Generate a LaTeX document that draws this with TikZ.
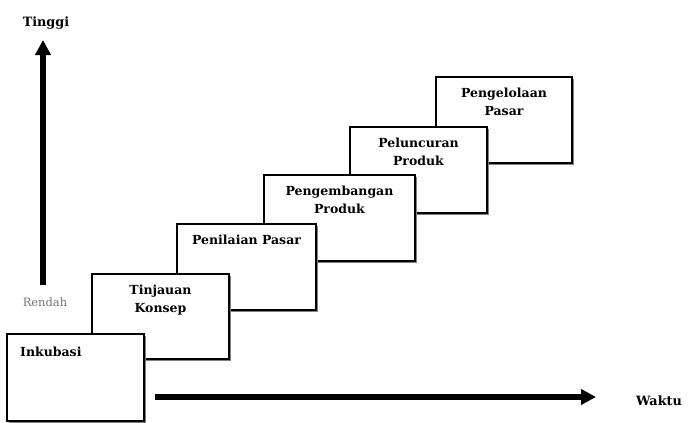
\documentclass[tikz,border=0pt]{standalone}
\usepackage{fontspec}
\setmainfont{DejaVu Serif}
\usetikzlibrary{arrows.meta,shadows}
\begin{document}
\begin{tikzpicture}[x=1pt,y=-1pt,
  stage/.style={draw=black, line width=1.1pt, fill=white, anchor=north west,
    inner sep=0pt, outer sep=0pt,
    drop shadow={shadow xshift=2.2pt, shadow yshift=-2.2pt, fill=black!50, opacity=1}},
  stagetext/.style={font=\bfseries\fontsize{12.5}{17.5}\selectfont, align=center, inner sep=0pt},
  axis/.style={line width=5.5pt, -{Triangle[width=15pt,length=15pt]}},
  axislabel/.style={font=\bfseries\fontsize{12.8}{14}\selectfont, inner sep=0pt}]
\useasboundingbox (0,0) rectangle (689,423);

% stages, drawn from the last one back to the first so each lower box lies on top
\node[stage, minimum width=136pt, minimum height=86pt] (s6) at (436,77) {};
\node[stage, minimum width=137pt, minimum height=86pt] (s5) at (350,127) {};
\node[stage, minimum width=151pt, minimum height=86pt] (s4) at (264,175) {};
\node[stage, minimum width=139pt, minimum height=86pt] (s3) at (177,224) {};
\node[stage, minimum width=137pt, minimum height=85pt] (s2) at (92,274) {};
\node[stage, minimum width=137pt, minimum height=87pt] (s1) at (7,334) {};

\node[stagetext, anchor=north] (t6) at ([yshift=-11pt]s6.north) {Pengelolaan\\Pasar};
\node[stagetext, anchor=north] (t5) at ([yshift=-11pt]s5.north) {Peluncuran\\Produk};
\node[stagetext, anchor=north] (t4) at ([yshift=-11pt]s4.north) {Pengembangan\\Produk};
\node[stagetext, anchor=north] (t3) at ([yshift=-11pt]s3.north) {Penilaian Pasar};
\node[stagetext, anchor=north] (t2) at ([yshift=-11pt]s2.north) {Tinjauan\\Konsep};
\node[stagetext, anchor=north west] (t1) at ([xshift=13pt,yshift=-13pt]s1.north west) {Inkubasi};

% axes
\coordinate (vbase) at (43,285);
\coordinate (vtip) at (43,40);
\draw[axis] (vbase) -- (vtip);
\node[axislabel] (high) at (46,23) {Tinggi};
\node[font=\fontsize{11.5}{13}\selectfont, text=black!55, inner sep=0pt] (low) at (45,302) {Rendah};

\coordinate (hbase) at (155,397);
\coordinate (htip) at (596,397);
\draw[axis] (hbase) -- (htip);
\node[axislabel] (time) at (659,401) {Waktu};
\end{tikzpicture}
\end{document}
